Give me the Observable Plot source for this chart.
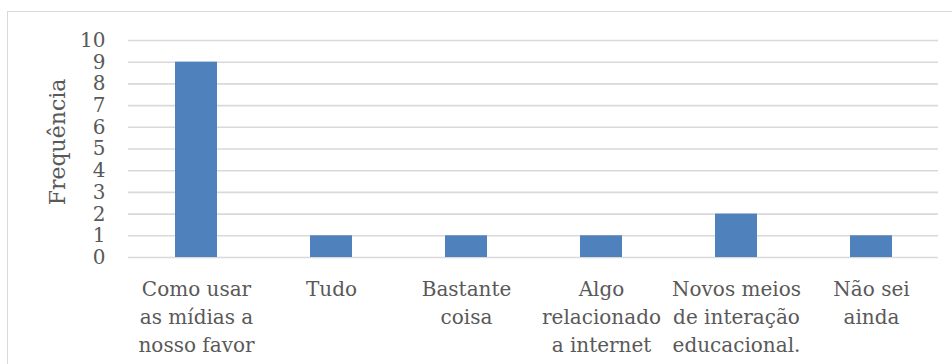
<!DOCTYPE html>
<html>
<head>
<meta charset="utf-8">
<script src="https://cdn.jsdelivr.net/npm/d3@7"></script>
<script src="https://cdn.jsdelivr.net/npm/@observablehq/plot@0.6"></script>
<style>
  html, body { margin: 0; padding: 0; background: #fff; }
  #wrap { position: relative; width: 952px; height: 364px; overflow: hidden; }
  #box { position: absolute; left: 7px; top: 11px; width: 960px; height: 400px;
         border: 1px solid #d9d9d9; box-sizing: border-box; }
  #chart { position: absolute; left: 0; top: 0; }
</style>
</head>
<body>
<div id="wrap"><div id="box"></div><div id="chart"></div></div>
<script>
const categories = [
  "Como usar\nas mídias a\nnosso favor",
  "Tudo",
  "Bastante\ncoisa",
  "Algo\nrelacionado\na internet",
  "Novos meios\nde interação\neducacional.",
  "Não sei\nainda"
];
const frequencies = [9, 1, 1, 1, 2, 1];
const yTicks = [0, 1, 2, 3, 4, 5, 6, 7, 8, 9, 10];
const yLabel = "Frequência";

const data = categories.map((c, i) => ({category: c, value: frequencies[i]}));

const textColor = "#595959";
const font = "DejaVu Serif";

const chart = Plot.plot({
  width: 952,
  height: 364,
  marginLeft: 128,
  marginRight: 14,
  marginTop: 40,
  marginBottom: 107,
  style: {fontFamily: font, fontSize: "20px", color: textColor, background: "transparent", overflow: "visible"},
  x: {domain: categories, paddingInner: 0.69, paddingOuter: 0.345, label: null},
  y: {domain: [0, 10], label: null},
  marks: [
    Plot.ruleY(yTicks, {stroke: "#d9d9d9", strokeWidth: 1.6}),
    Plot.barY(data, {x: "category", y: "value", fill: "#4f81bd"}),
    Plot.axisY(yTicks, {tickSize: 0, tickPadding: 23, fill: textColor, fontSize: 20, label: null}),
    Plot.axisX({tickSize: 0, tickPadding: 18, fill: textColor, fontSize: 20, lineHeight: 1.42, label: null}),
    Plot.text([yLabel], {frameAnchor: "left", textAnchor: "middle", dx: -71, dy: -7, rotate: -90, fill: textColor, fontSize: 22})
  ]
});
document.getElementById("chart").append(chart);
</script>
</body>
</html>
